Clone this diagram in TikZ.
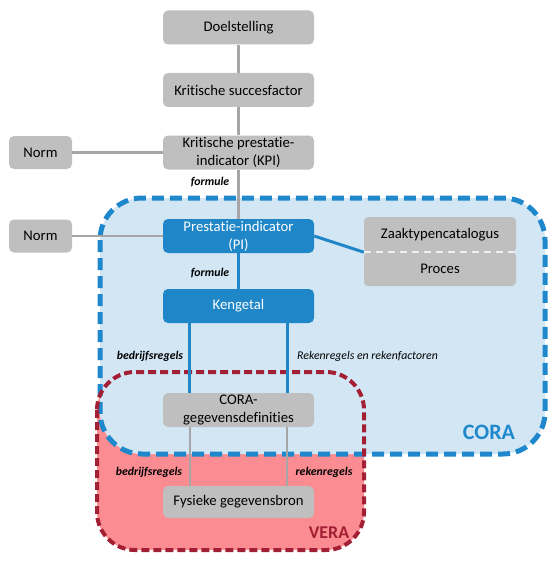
\documentclass[tikz,border=0pt]{standalone}
\usepackage{fontspec}
\setmainfont{Carlito}[Ligatures=NoCommon]
\definecolor{boxgray}{HTML}{BFBFBF}
\definecolor{linegray}{HTML}{A6A6A6}
\definecolor{boxblue}{HTML}{1F86C8}
\definecolor{corafill}{HTML}{D3E6F4}
\definecolor{corablue}{HTML}{1F88CC}
\definecolor{verafill}{HTML}{FB8C91}
\definecolor{verared}{HTML}{A31F34}
\tikzset{
  graybox/.style={rectangle, rounded corners=5pt, fill=boxgray, text=black, inner sep=0pt,
    minimum width=151pt, minimum height=34pt, align=center, font=\fontsize{14.7}{18}\selectfont},
  bluebox/.style={graybox, fill=boxblue, text=white},
  normbox/.style={graybox, minimum width=63pt, minimum height=33pt},
  grayline/.style={draw=linegray, line width=2.5pt},
  blueline/.style={draw=boxblue, line width=3pt},
  lbl/.style={font=\fontsize{11.8}{13}\selectfont\bfseries\itshape, inner sep=0pt},
  lblplain/.style={font=\fontsize{11.8}{13}\selectfont\itshape, inner sep=0pt},
}
\begin{document}
\begin{tikzpicture}[x=1pt,y=-1pt]
\useasboundingbox (0,0) rectangle (555,575);
% regions
\fill[verafill, rounded corners=38pt] (97,372) rectangle (364,550);
\fill[corafill, rounded corners=42pt] (100,198) rectangle (545,454);
\draw[corablue, line width=5pt, dash pattern=on 12pt off 6pt, rounded corners=42pt] (100,198) rectangle (545,454);
\draw[verared, line width=4pt, dash pattern=on 8pt off 4pt, rounded corners=38pt] (97,372) rectangle (364,550);
\node[text=corablue, font=\fontsize{22}{24}\selectfont\bfseries] (coralbl) at (489,432) {CORA};
\node[text=verared, font=\fontsize{18}{20}\selectfont\bfseries] (veralbl) at (329,533) {VERA};
% nodes
\node[graybox] (doel) at (238.5,27.5) {Doelstelling};
\node[graybox] (ksf) at (238.5,90) {Kritische succesfactor};
\node[graybox] (kpi) at (238.5,152.5) {Kritische prestatie-\\indicator (KPI)};
\node[normbox] (norm1) at (40.5,152.5) {Norm};
\node[normbox] (norm2) at (40.5,236) {Norm};
\node[bluebox] (pi) at (238.5,236) {Prestatie-indicator\\(PI)};
\node[bluebox] (keng) at (238.5,306) {Kengetal};
\node[graybox] (cgd) at (238.5,410) {CORA-\\gegevensdefinities};
\node[graybox, minimum height=32pt] (fys) at (238.5,502) {Fysieke gegevensbron};
\node[graybox, minimum width=152pt, minimum height=35pt, rounded corners=4pt] (zaak) at (440,234.5) {Zaaktypencatalogus};
\node[graybox, minimum width=152pt, minimum height=34pt, rounded corners=4pt] (proces) at (440,269) {Proces};
\draw[white!75!boxgray, line width=1.5pt, dash pattern=on 7pt off 5pt] (zaak.south west) -- (zaak.south east);
% connectors
\draw[grayline] (doel) -- (ksf);
\draw[grayline] (ksf) -- (kpi);
\draw[grayline] (kpi) -- (pi);
\draw[grayline] (norm1) -- (kpi);
\draw[grayline] (norm2) -- (pi);
\draw[blueline] (pi.east) -- (zaak.south west);
\draw[blueline] (pi) -- (keng);
\draw[blueline] ([xshift=27pt]keng.south west) -- ([xshift=27pt]cgd.north west);
\draw[blueline] ([xshift=-27pt]keng.south east) -- ([xshift=-27pt]cgd.north east);
\draw[grayline] ([xshift=27pt]cgd.south west) -- ([xshift=27pt]fys.north west);
\draw[grayline] ([xshift=-27pt]cgd.south east) -- ([xshift=-27pt]fys.north east);
% labels
\node[lbl] (f1) at (210,182) {formule};
\node[lbl] (f2) at (210,273) {formule};
\node[lbl] (br1) at (150,356) {bedrijfsregels};
\node[lblplain] (rr1) at (367.5,356) {Rekenregels en rekenfactoren};
\node[lbl] (br2) at (149,472) {bedrijfsregels};
\node[lbl] (rr2) at (324,472) {rekenregels};
\end{tikzpicture}
\end{document}
